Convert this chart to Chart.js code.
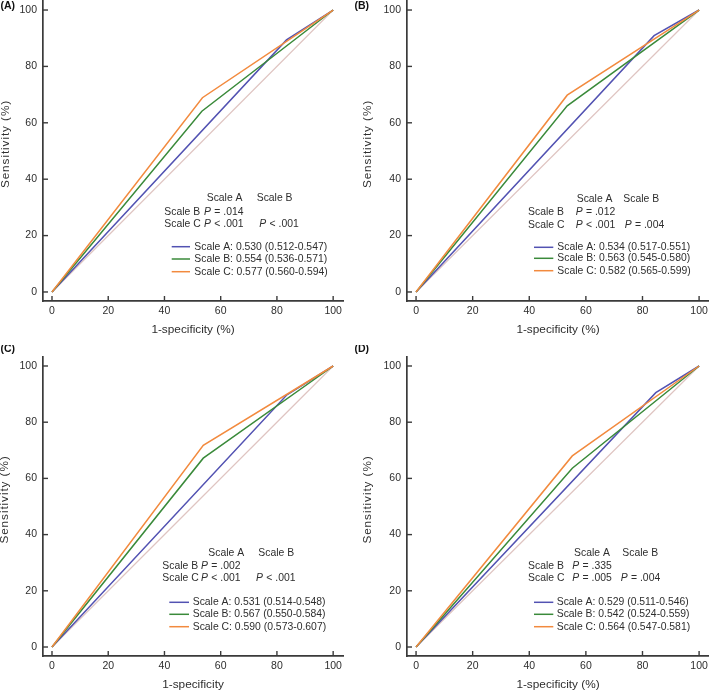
<!DOCTYPE html>
<html><head><meta charset="utf-8">
<script src="https://cdn.jsdelivr.net/npm/chart.js@4.4.1/dist/chart.umd.min.js"></script>
<style>
html,body{margin:0;padding:0;background:#fff;}
#wrap{position:relative;width:709px;height:691px;overflow:hidden;background:#fff;}
canvas{position:absolute;}
</style></head><body>
<div id="wrap">
<canvas id="cA" width="354" height="345" style="left:0;top:0;width:354px;height:345px"></canvas>
<canvas id="cB" width="355" height="345" style="left:354px;top:0;width:355px;height:345px"></canvas>
<canvas id="cC" width="354" height="346" style="left:0;top:345px;width:354px;height:346px"></canvas>
<canvas id="cD" width="355" height="346" style="left:354px;top:345px;width:355px;height:346px"></canvas>
</div>
<script>
// ---------------- data ----------------
const panelLabels = ['(A)', '(B)', '(C)', '(D)'];
const xTitles = ['1-specificity (%)', '1-specificity (%)', '1-specificity', '1-specificity (%)'];
const yTitle = 'Sensitivity (%)';
const tickValues = [0, 20, 40, 60, 80, 100];
const seriesNames = ['Scale A', 'Scale B', 'Scale C'];
const refX = [0, 100];
const refY = [0, 100];

// ROC vertices: 1-specificity (%) and sensitivity (%) per series
const fprA = [[0, 83.4, 100], [0, 53.3, 100], [0, 53.5, 100]];
const tprA = [[0, 89.4, 100], [0, 64.1, 100], [0, 68.9, 100]];
const fprB = [[0, 84.1, 100], [0, 53.4, 100], [0, 53.4, 100]];
const tprB = [[0, 90.9, 100], [0, 66.0, 100], [0, 69.8, 100]];
const fprC = [[0, 83.4, 100], [0, 53.8, 100], [0, 53.8, 100]];
const tprC = [[0, 89.6, 100], [0, 67.2, 100], [0, 71.8, 100]];
const fprD = [[0, 84.7, 100], [0, 55.2, 100], [0, 55.2, 100]];
const tprD = [[0, 90.5, 100], [0, 63.6, 100], [0, 68.0, 100]];

const aucA = ['0.530 (0.512-0.547)', '0.554 (0.536-0.571)', '0.577 (0.560-0.594)'];
const aucB = ['0.534 (0.517-0.551)', '0.563 (0.545-0.580)', '0.582 (0.565-0.599)'];
const aucC = ['0.531 (0.514-0.548)', '0.567 (0.550-0.584)', '0.590 (0.573-0.607)'];
const aucD = ['0.529 (0.511-0.546)', '0.542 (0.524-0.559)', '0.564 (0.547-0.581)'];

// pairwise comparisons: rows Scale B, Scale C; columns vs Scale A, vs Scale B  [sign, value]
const pA = [[['=', '.014'], null], [['<', '.001'], ['<', '.001']]];
const pB = [[['=', '.012'], null], [['<', '.001'], ['=', '.004']]];
const pC = [[['=', '.002'], null], [['<', '.001'], ['<', '.001']]];
const pD = [[['=', '.335'], null], [['=', '.005'], ['=', '.004']]];

// ---------------- styling / layout ----------------
const FONT = "'Liberation Sans', Arial, Helvetica, sans-serif";
const colors = ['#5252b2', '#3a8a3a', '#f28a3e'];
const refColor = '#dfc5c2';
const axisColor = '#3a3a3a';
const textColor = '#2e2e2e';

const layouts = [
  {yW: 43, xH: 44, top: 1, right: 11, yTx: 5.5, xPad: 9.2,
   row: 121.3, p1: 161, p2: 216.3, hA: 163.7, hB: 213.7, lx0: 128.7, lx1: 147, lt: 151.3,
   ys: [103, 89, 77, 54.3, 42, 29.3]},
  {yW: 53, xH: 44, top: 1, right: 0, yTx: 13.5, xPad: 9.2,
   row: 121, p1: 168.7, p2: 217.7, hA: 169.7, hB: 216.3, lx0: 127, lx1: 146.3, lt: 150.3,
   ys: [101.7, 89.3, 76, 53.7, 42.7, 30.3]},
  {yW: 43, xH: 35, top: 12, right: 11, yTx: 5, xPad: 0.3,
   row: 119.3, p1: 158, p2: 213, hA: 165.3, hB: 215.3, lx0: 126.3, lx1: 146, lt: 149.7,
   ys: [102.7, 90.3, 77.7, 53.7, 41.7, 29.3]},
  {yW: 53, xH: 35, top: 12, right: 0, yTx: 14, xPad: 0.3,
   row: 121, p1: 165.3, p2: 213.7, hA: 167, hB: 215.3, lx0: 127, lx1: 146.3, lt: 149.7,
   ys: [102.7, 90.3, 77.7, 53.7, 41.7, 29.3]}
];

const panelData = [
  {fpr: fprA, tpr: tprA, auc: aucA, p: pA},
  {fpr: fprB, tpr: tprB, auc: aucB, p: pB},
  {fpr: fprC, tpr: tprC, auc: aucC, p: pC},
  {fpr: fprD, tpr: tprD, auc: aucD, p: pD}
];

function drawP(ctx, x, y, pv) {
  if (!pv) return;
  ctx.font = 'italic 10.4px ' + FONT;
  ctx.fillText('P', x, y);
  const w = ctx.measureText('P ').width;
  ctx.font = '10.4px ' + FONT;
  ctx.fillText(pv[0] + ' ' + pv[1], x + w + 0.5, y);
}

const decor = {
  id: 'decor',
  afterDraw(chart, args, o) {
    const {ctx, chartArea: ca} = chart;
    const xs = chart.scales.x, ys = chart.scales.y;
    const L = o.layout, D = o.data;
    ctx.save();
    // inward tick marks
    ctx.strokeStyle = axisColor;
    ctx.lineWidth = 1.4;
    tickValues.forEach(v => {
      const px = xs.getPixelForValue(v);
      ctx.beginPath(); ctx.moveTo(px, ca.bottom); ctx.lineTo(px, ca.bottom - 5); ctx.stroke();
      const py = ys.getPixelForValue(v);
      ctx.beginPath(); ctx.moveTo(ca.left, py); ctx.lineTo(ca.left + 5, py); ctx.stroke();
    });
    // y-axis title
    ctx.save();
    ctx.fillStyle = textColor;
    ctx.font = '11.8px ' + FONT;
    ctx.translate(L.yTx, (ca.top + ca.bottom) / 2 - 7);
    ctx.rotate(-Math.PI / 2);
    ctx.textAlign = 'center';
    ctx.textBaseline = 'middle';
    try { ctx.letterSpacing = '0.9px'; } catch (e) {}
    ctx.fillText(yTitle, 0, 0);
    ctx.restore();
    // panel label
    ctx.fillStyle = '#111';
    ctx.textBaseline = 'middle';
    ctx.textAlign = 'left';
    ctx.font = 'bold 10.5px ' + FONT;
    ctx.fillText(o.label, 0.5, o.labelY);
    // comparison table
    ctx.fillStyle = textColor;
    ctx.font = '10.4px ' + FONT;
    const X = v => ca.left + v, Y = v => ca.bottom - v;
    ctx.fillText(seriesNames[0], X(L.hA), Y(L.ys[0]));
    ctx.fillText(seriesNames[1], X(L.hB), Y(L.ys[0]));
    for (let r = 0; r < 2; r++) {
      ctx.font = '10.4px ' + FONT;
      ctx.fillText(seriesNames[r + 1], X(L.row), Y(L.ys[1 + r]));
      drawP(ctx, X(L.p1), Y(L.ys[1 + r]), D.p[r][0]);
      drawP(ctx, X(L.p2), Y(L.ys[1 + r]), D.p[r][1]);
    }
    // legend
    ctx.font = '10.4px ' + FONT;
    for (let i = 0; i < 3; i++) {
      const yy = Y(L.ys[3 + i]);
      ctx.strokeStyle = colors[i];
      ctx.lineWidth = 1.5;
      ctx.beginPath(); ctx.moveTo(X(L.lx0), yy); ctx.lineTo(X(L.lx1), yy); ctx.stroke();
      ctx.fillStyle = textColor;
      ctx.fillText(seriesNames[i] + ': ' + D.auc[i], X(L.lt), yy);
    }
    ctx.restore();
  }
};

function makeChart(id, k) {
  const L = layouts[k], D = panelData[k];
  const datasets = seriesNames.map((n, i) => ({
    label: n,
    data: D.fpr[i].map((x, j) => ({x: x, y: D.tpr[i][j]})),
    borderColor: colors[i],
    backgroundColor: colors[i],
    borderWidth: 1.5,
    pointRadius: 0,
    showLine: true,
    fill: false,
    tension: 0,
    order: 3 - i
  }));
  datasets.push({
    label: 'Reference',
    data: refX.map((x, j) => ({x: x, y: refY[j]})),
    borderColor: refColor,
    borderWidth: 1.2,
    pointRadius: 0,
    showLine: true,
    fill: false,
    order: 10
  });
  const setTicks = s => { s.ticks = tickValues.map(v => ({value: v})); };
  return new Chart(document.getElementById(id), {
    type: 'scatter',
    data: {datasets: datasets},
    plugins: [decor],
    options: {
      responsive: false,
      animation: false,
      devicePixelRatio: 1,
      layout: {padding: {left: 0, right: L.right, top: L.top, bottom: 0}},
      plugins: {
        legend: {display: false},
        tooltip: {enabled: false},
        decor: {layout: L, data: D, label: panelLabels[k], labelY: k < 2 ? 6 : 4}
      },
      scales: {
        x: {
          type: 'linear', min: -3.2, max: 103.5,
          afterBuildTicks: setTicks,
          afterFit: s => { s.height = L.xH; s.paddingLeft = 0; s.paddingRight = 0; },
          grid: {display: true, drawOnChartArea: false, drawTicks: false},
          border: {display: true, color: axisColor, width: 1.7},
          ticks: {padding: 4, color: textColor, font: {family: FONT, size: 10.5}, maxRotation: 0, autoSkip: false},
          title: {display: true, text: xTitles[k], color: textColor,
                  font: {family: FONT, size: 11.8, lineHeight: 1}, padding: {top: 0, bottom: L.xPad}}
        },
        y: {
          type: 'linear', min: -3.2, max: 103.2,
          afterBuildTicks: setTicks,
          afterFit: s => { s.width = L.yW; s.paddingTop = 0; s.paddingBottom = 0; },
          grid: {display: true, drawOnChartArea: false, drawTicks: false},
          border: {display: true, color: axisColor, width: 1.7},
          ticks: {padding: 6, color: textColor, font: {family: FONT, size: 10.5}, autoSkip: false},
          title: {display: false}
        }
      }
    }
  });
}

makeChart('cA', 0);
makeChart('cB', 1);
makeChart('cC', 2);
makeChart('cD', 3);
</script>
</body></html>
